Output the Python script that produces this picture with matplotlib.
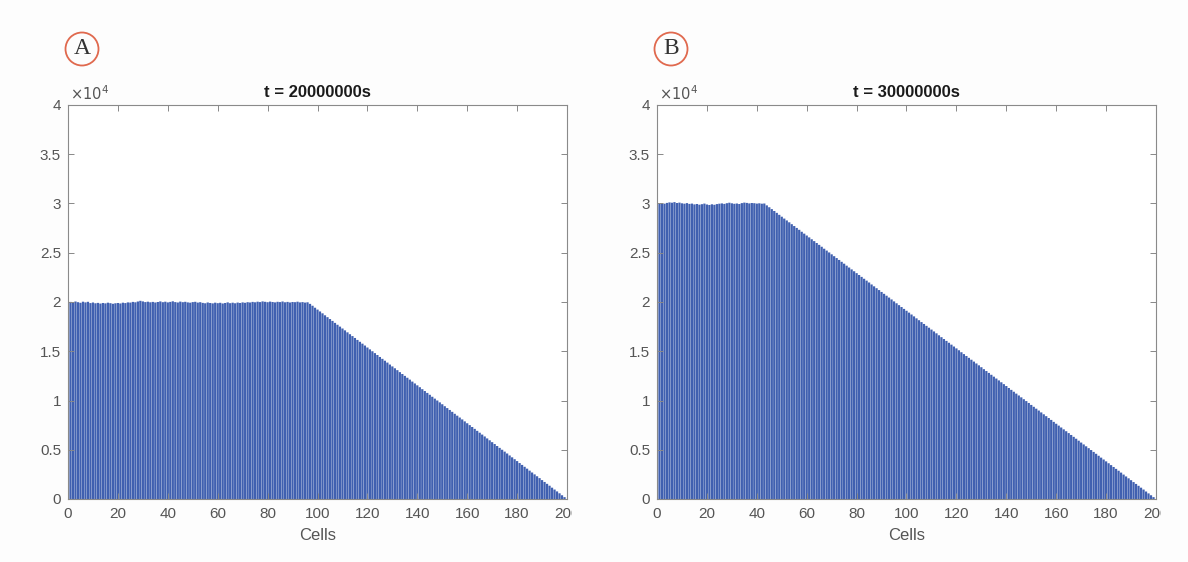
import matplotlib
matplotlib.use("Agg")
import matplotlib.pyplot as plt
from matplotlib.patches import Circle
from matplotlib.transforms import Bbox, IdentityTransform

plt.rcParams['font.family'] = ['Liberation Sans', 'DejaVu Sans']

# cell counts per cell at t = 2e7 s: plateau (cells 1-96), then the linear tail (cells 97-200)
plateau_a = [
    20010, 19940, 20050, 19980, 19920, 20030, 19960, 20020, 19890, 19950, 19870, 19910,
    19840, 19900, 19860, 19930, 19880, 19820, 19870, 19900, 19850, 19930, 19890, 19960,
    19940, 20010, 19970, 20050, 20120, 20060, 19990, 20030, 19970, 20010, 19950, 20000,
    20060, 19980, 20030, 19960, 20010, 20070, 19990, 19950, 20040, 19980, 20020, 19960,
    19930, 19990, 20020, 19940, 19980, 19910, 19870, 19950, 19900, 19860, 19930, 19880,
    19920, 19850, 19900, 19960, 19880, 19930, 19870, 19940, 19900, 19960, 19920, 19980,
    19950, 20010, 19970, 20030, 19990, 20060, 20020, 19980, 20040, 20000, 19960, 20020,
    19990, 20050, 19970, 20010, 19950, 20000, 19980, 20030, 19960, 19990, 19940, 19970,
]
tail_a = [
    19810, 19620, 19420, 19230, 19040, 18850, 18650, 18460, 18270, 18080,
    17880, 17690, 17500, 17310, 17120, 16920, 16730, 16540, 16350, 16150,
    15960, 15770, 15580, 15380, 15190, 15000, 14810, 14620, 14420, 14230,
    14040, 13850, 13650, 13460, 13270, 13080, 12880, 12690, 12500, 12310,
    12120, 11920, 11730, 11540, 11350, 11150, 10960, 10770, 10580, 10380,
    10190, 10000, 9810, 9620, 9420, 9230, 9040, 8850, 8650, 8460,
    8270, 8080, 7880, 7690, 7500, 7310, 7120, 6920, 6730, 6540,
    6350, 6150, 5960, 5770, 5580, 5380, 5190, 5000, 4810, 4620,
    4420, 4230, 4040, 3850, 3650, 3460, 3270, 3080, 2880, 2690,
    2500, 2310, 2120, 1920, 1730, 1540, 1350, 1150, 960, 770,
    580, 380, 190, 0,
]

# cell counts per cell at t = 3e7 s: plateau (cells 1-43), then the linear tail (cells 44-200)
plateau_b = [
    29950, 30020, 29980, 30060, 30110, 30080, 30140, 30050, 30090, 30020,
    29980, 30040, 29960, 29990, 29910, 29950, 29880, 29930, 29990, 29900,
    29850, 29920, 29870, 29940, 29980, 30010, 29960, 30030, 30080, 30020,
    29970, 30000, 29950, 30040, 30090, 30060, 30010, 30050, 30030, 29990,
    30020, 29980, 30000,
]
tail_b = [
    29810, 29620, 29430, 29240, 29050, 28850, 28660, 28470, 28280, 28090,
    27900, 27710, 27520, 27330, 27130, 26940, 26750, 26560, 26370, 26180,
    25990, 25800, 25610, 25410, 25220, 25030, 24840, 24650, 24460, 24270,
    24080, 23890, 23690, 23500, 23310, 23120, 22930, 22740, 22550, 22360,
    22170, 21980, 21780, 21590, 21400, 21210, 21020, 20830, 20640, 20450,
    20260, 20060, 19870, 19680, 19490, 19300, 19110, 18920, 18730, 18540,
    18340, 18150, 17960, 17770, 17580, 17390, 17200, 17010, 16820, 16620,
    16430, 16240, 16050, 15860, 15670, 15480, 15290, 15100, 14900, 14710,
    14520, 14330, 14140, 13950, 13760, 13570, 13380, 13180, 12990, 12800,
    12610, 12420, 12230, 12040, 11850, 11660, 11470, 11270, 11080, 10890,
    10700, 10510, 10320, 10130, 9940, 9750, 9550, 9360, 9170, 8980,
    8790, 8600, 8410, 8220, 8030, 7830, 7640, 7450, 7260, 7070,
    6880, 6690, 6500, 6310, 6120, 5920, 5730, 5540, 5350, 5160,
    4970, 4780, 4590, 4390, 4200, 4010, 3820, 3630, 3440, 3250,
    3060, 2870, 2680, 2480, 2290, 2100, 1910, 1720, 1530, 1340,
    1150, 960, 760, 570, 380, 190, 0,
]

panels = [
    ('A', 't = 20000000s', plateau_a + tail_a),
    ('B', 't = 30000000s', plateau_b + tail_b),
]

bar_color = '#4060b0'
grey = '#555555'

W, H = 1188, 562
fig = plt.figure(figsize=(W / 100, H / 100), dpi=100)
fig.patch.set_facecolor('#fdfdfd')

lefts = [68, 657]
for (letter, title, counts), left in zip(panels, lefts):
    ax = fig.add_axes([left / W, 1 - 499 / H, 499 / W, 394 / H])
    cells = list(range(1, len(counts) + 1))
    bars = ax.bar(cells, counts, width=0.9, color=bar_color, edgecolor='none', linewidth=0)
    # no pixel snapping: keeps the thin gaps between bars evenly faint
    for b in bars:
        b.set_snap(False)

    ax.set_xlim(0, 200)
    ax.set_ylim(0, 40000)
    ax.set_xticks(range(0, 201, 20))
    ax.set_yticks(range(0, 40001, 5000))
    ax.set_yticklabels(['0', '0.5', '1', '1.5', '2', '2.5', '3', '3.5', '4'])
    ax.tick_params(direction='in', length=4, width=0.7, colors='#888888',
                   labelcolor=grey, labelsize=11, top=True, right=True)
    ax.tick_params(axis='x', pad=6)
    ax.tick_params(axis='y', pad=5)
    for s in ax.spines.values():
        s.set_color('#8a8a8a')
        s.set_linewidth(0.8)

    ax.set_xlabel('Cells', fontsize=12, color=grey, labelpad=5)
    ax.set_title(title, fontsize=12, fontweight='bold', color='#1a1a1a', pad=6)
    ax.text(0.005, 1.006, r'$\times10^4$', transform=ax.transAxes, fontsize=10.5,
            color=grey, ha='left', va='bottom')

    # the last x tick label runs past the edge of the panel
    fig.canvas.draw()
    lbl = ax.get_xticklabels()[-1]
    x_edge = ax.transAxes.transform((1.0, 0.0))[0] + 5
    lbl.set_clip_box(Bbox([[0, 0], [x_edge, H]]))
    lbl.set_clip_on(True)

    # circled panel letter, drawn in pixel units so it stays round
    cx, cy = left + 14, H - 49
    circ = Circle((cx, cy), 16.5, transform=IdentityTransform(),
                  fill=False, edgecolor='#e0694e', linewidth=1.3)
    fig.patches.append(circ)
    fig.text(cx / W, cy / H, letter, fontsize=17, family='Liberation Serif',
             color='#333333', ha='center', va='center')

fig.savefig('out.png', dpi=100, facecolor=fig.get_facecolor())
